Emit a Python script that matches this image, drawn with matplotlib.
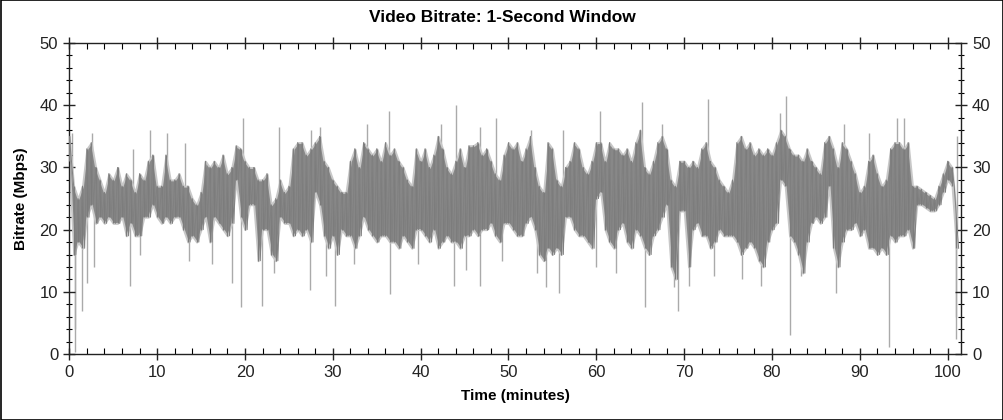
import matplotlib
matplotlib.use("Agg")
import matplotlib.pyplot as plt
from matplotlib.ticker import MultipleLocator
import numpy as np

plt.rcParams['font.family'] = ['Liberation Sans', 'DejaVu Sans']

# core band of the 1-second bitrate, one pair per half minute (0 .. 101 min)
hi = [35, 27, 25, 27, 33, 34, 30, 28, 26, 29,
      28, 30, 27, 29, 28, 26, 29, 28, 31, 32,
      27, 27, 32, 28, 28, 29, 27, 27, 25, 24,
      26, 31, 30, 31, 30, 32, 29, 30, 33.5, 33,
      31, 30, 30, 28, 28, 29, 24, 25, 28, 26,
      27, 33, 34, 34, 32, 33, 34, 35, 31, 30,
      28, 27, 26, 26, 31, 33, 30, 34, 33, 32,
      33, 31, 34, 32, 33, 31, 30, 28, 27, 33,
      31, 33, 30, 32, 35, 33, 30, 29, 31, 33,
      30, 33.5, 33.5, 34, 32, 33, 31, 29, 28, 32,
      34, 33, 34, 31, 33, 35, 30, 27, 26, 34,
      33, 28, 27, 30, 31, 34, 33, 30, 29, 31,
      34, 34, 31, 34, 33, 33, 32, 33, 31, 34,
      36, 30, 29, 31, 34, 35, 33, 28, 27, 31,
      31, 30, 31, 30, 33, 34, 31, 30, 28, 27,
      26, 28, 34, 35, 33, 34, 32, 33, 32, 33,
      32, 34, 36, 35, 33, 32, 32, 31, 33, 31,
      30, 29, 34, 35, 33, 30, 34, 33, 31, 29,
      26, 27, 31, 32, 29, 27, 28, 33, 34, 34,
      33, 34, 27, 27, 26.5, 26, 25.5, 25, 27, 29,
      31, 30, 22]
lo = [31, 16, 18, 17, 22, 24, 21, 22, 21, 22,
      21, 21, 22, 19, 21, 19, 19, 22, 22, 24,
      22, 21, 22, 21, 22, 22, 20, 18, 19, 18,
      20, 22, 18, 22, 21, 20, 19, 21, 28, 22,
      20, 24, 24, 15, 20, 20, 16, 15, 22, 21,
      21, 19, 20, 19, 20, 18, 26, 24, 19, 17,
      19, 16, 20, 19, 19, 17, 19, 22, 20, 19,
      18, 19, 19, 18, 18, 17, 19, 18, 17, 20,
      20, 19, 18, 20, 17, 18, 19, 18, 18, 17,
      19, 19, 20, 19, 20, 20, 21, 19, 18, 21,
      21, 20, 19, 19, 21, 22, 20, 16, 15, 17,
      16, 17, 16, 22, 22, 20, 19, 19, 18, 17,
      25, 26, 20, 18, 17, 20, 21, 18, 17, 20,
      19, 17, 16, 19, 20, 22, 24, 14, 12, 23,
      23, 14, 20, 21, 19, 19, 17, 18, 20, 19,
      19, 19, 18, 16, 17, 18, 17, 15, 14, 18,
      20, 21, 28, 27, 19, 18, 16, 13, 18, 21,
      22, 21, 22, 27, 17, 14, 18, 20, 20, 21,
      19, 20, 17, 17, 16, 17, 16, 19, 18, 19,
      19, 20, 17, 24, 24, 23.5, 23, 23, 24, 26,
      28, 27, 17]

# isolated peaks and dips (minute, Mbps)
spike_t = [0.3, 2.6, 7.2, 9.2, 11.1, 13.2, 19.8, 23.9, 27.5, 28.6, 33.9, 36.4,
           42.3, 44.0, 46.8, 48.6, 52.6, 56.2, 60.4, 65.2, 67.5, 72.7, 80.9,
           81.6, 88.2, 91.0, 94.2, 95.0, 101.1,
           0.6, 0.7, 1.5, 2.0, 2.8, 6.9, 8.1, 13.6, 16.2, 18.5, 19.6, 21.9,
           23.3, 27.4, 29.2, 30.3, 32.4, 36.5, 39.7, 43.8, 45.2, 46.8, 49.3,
           53.3, 54.3, 55.8, 60.0, 62.2, 65.6, 68.9, 69.3, 70.5, 73.4, 76.6,
           78.8, 82.0, 83.3, 87.3, 93.3, 100.9, 101.0]
spike_v = [35.5, 35.5, 33, 36, 35.5, 34, 38, 36.5, 36, 36.5, 37, 39,
           37, 40, 36.5, 38, 36, 36, 39, 40.5, 37, 41, 38.7,
           41.5, 37, 35.5, 38, 38, 35,
           0.3, 4, 7, 11.5, 14, 11, 16, 15, 14.5, 11.5, 7.5, 7.7,
           13, 10.3, 12.5, 7.7, 14.5, 9.7, 14.5, 11, 13.5, 11, 15,
           13, 10.8, 9.8, 14, 13, 7.5, 10.8, 7, 11, 12.5, 12,
           11, 3, 12.5, 9.8, 1.2, 6, 2.5]

t = np.arange(len(hi)) * 0.5
xs = np.column_stack([t, t + 0.25]).ravel()
ys = np.column_stack([hi, lo]).ravel()

fig = plt.figure(figsize=(10.04, 4.2), dpi=100)
ax = fig.add_axes([0.069, 0.157, 0.888, 0.7405])

# spikes start from the middle of the band at that minute
base = np.interp(spike_t, t, (np.array(hi) + np.array(lo)) / 2)
ax.vlines(spike_t, base, spike_v, color='#aaaaaa', lw=1.0, zorder=1)
ax.fill_between(t, lo, hi, facecolor='#888888',
                edgecolor='#c8c8c8', lw=1.4, zorder=2)
ax.vlines(t, lo, hi, color='#7c7c7c', lw=0.9, zorder=3)
ax.plot(xs, ys, color='#808080', lw=0.7, zorder=3)

ax.set_xlim(0, 101.5)
ax.set_ylim(0, 50)
ax.xaxis.set_major_locator(MultipleLocator(10))
ax.xaxis.set_minor_locator(MultipleLocator(2))
ax.yaxis.set_major_locator(MultipleLocator(10))
ax.yaxis.set_minor_locator(MultipleLocator(2))
ax.tick_params(which='major', direction='inout', length=9, width=1,
               labelsize=12, colors='#222222', top=True, right=True,
               labelright=True)
ax.tick_params(axis='x', which='minor', direction='in', length=4, width=0.8,
               top=True)
ax.tick_params(axis='y', which='minor', direction='inout', length=5, width=0.8,
               right=True)
for s in ax.spines.values():
    s.set_linewidth(1)
    s.set_color('#222222')

fig.suptitle('Video Bitrate: 1-Second Window', y=0.975, fontsize=12.5,
             fontweight='bold')
ax.set_xlabel('Time (minutes)', fontsize=11, fontweight='bold', labelpad=6)
ax.set_ylabel('Bitrate (Mbps)', fontsize=11, fontweight='bold', labelpad=8)

fig.patches.append(plt.Rectangle((0.0005, 0.001), 0.999, 0.998,
                                 transform=fig.transFigure, fill=False,
                                 edgecolor='black', lw=1.2))

fig.savefig('out.png', dpi=100)
